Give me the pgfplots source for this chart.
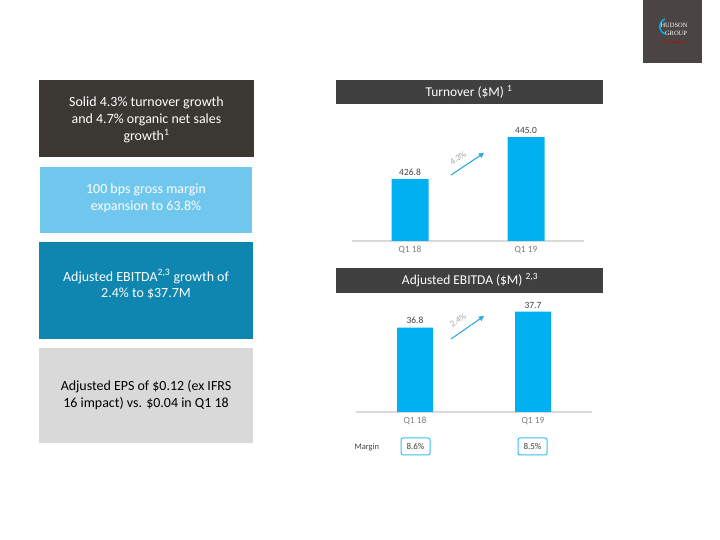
\documentclass[border=0pt]{standalone}
\usepackage{pgfplots}
\pgfplotsset{compat=1.18}
\usepackage{fontspec}
\setmainfont{Carlito}
\newfontfamily\logofont{Liberation Serif}
\usetikzlibrary{arrows.meta}
\definecolor{barcyan}{HTML}{00B0F0}
\definecolor{titlegray}{HTML}{404040}
\definecolor{boxdark}{HTML}{3B3733}
\definecolor{boxlight}{HTML}{6FC7EE}
\definecolor{boxteal}{HTML}{0E86B0}
\definecolor{boxgray}{HTML}{D9D9D9}
\definecolor{lblgray}{HTML}{7F7F7F}
\definecolor{arrowblue}{HTML}{1FA9E1}
\definecolor{logobg}{HTML}{4A4542}
\begin{document}
\begin{tikzpicture}[x=1bp,y=1bp]
\useasboundingbox (0,0) rectangle (720,540);
\fill[white] (0,0) rectangle (720,540);
% logo
\fill[logobg] (643,540) rectangle (702,477);
\draw[barcyan, line width=1.5] (665,521) arc[start angle=110, end angle=250, radius=8];
\node[white, font=\fontsize{6.5}{7}\logofont] at (674,515) {HUDSON};
\node[white, font=\fontsize{6.5}{7}\logofont] at (676,507) {GROUP};
\node[red!80!black, font=\fontsize{3.5}{4}\selectfont] at (673,497) {A Dufry Company};
% left boxes
\fill[boxdark] (39,460) rectangle (254,383);
\node[white, align=center, font=\fontsize{14}{17}\selectfont] at (146.5,420) {Solid 4.3\% turnover growth\\and 4.7\% organic net sales\\growth\textsuperscript{1}};
\fill[boxlight] (40,373) rectangle (252,307);
\node[white, align=center, font=\fontsize{14}{17}\selectfont] at (146,341.5) {100 bps gross margin\\expansion to 63.8\%};
\fill[boxteal] (39,298) rectangle (253,201);
\node[white, align=center, font=\fontsize{14}{17}\selectfont] at (146,255.5) {Adjusted EBITDA\textsuperscript{2,3} growth of\\2.4\% to \$37.7M};
\fill[boxgray] (39,192) rectangle (253,97);
\node[black, align=center, font=\fontsize{14}{17}\selectfont] at (146,145) {Adjusted EPS of \$0.12 (ex IFRS\\16 impact) vs. \$0.04 in Q1 18};
% title bars
\fill[titlegray] (336,460) rectangle (603,436);
\node[white, font=\fontsize{13.5}{15}\selectfont] at (469,448) {Turnover (\$M) \textsuperscript{1}};
\fill[titlegray] (336,272) rectangle (603,247);
\node[white, font=\fontsize{13.5}{15}\selectfont] at (470,259.5) {Adjusted EBITDA (\$M) \textsuperscript{2,3}};
% turnover chart
\begin{axis}[
  at={(352bp,299bp)}, anchor=south west,
  scale only axis, width=232bp, height=115.5bp,
  xmin=-0.5, xmax=1.5, ymin=400, ymax=450,
  axis x line=bottom, axis y line=none,
  x axis line style={boxgray, line width=1.2pt, -},
  xtick=data, xticklabels={Q1 18, Q1 19},
  major tick length=0pt,
  xticklabel style={lblgray, font=\fontsize{9.5}{11}\selectfont, yshift=-2bp},
  ybar, bar width=37bp,
  nodes near coords,
  nodes near coords style={titlegray, font=\fontsize{9.5}{11}\selectfont, /pgf/number format/.cd, fixed, fixed zerofill, precision=1, assume math mode=true},
  clip=false,
]
\addplot[fill=barcyan, draw=none] coordinates {(0,426.8) (1,445.0)};
\end{axis}
\draw[arrowblue, line width=1, -{Triangle[length=5bp,width=5bp]}] (451,365) -- (484,387);
\node[lblgray!70, rotate=34, font=\fontsize{9}{10}\selectfont] at (458,382) {4.3\%};
% EBITDA chart
\begin{axis}[
  at={(356bp,128bp)}, anchor=south west,
  scale only axis, width=236bp, height=105.6bp,
  xmin=-0.5, xmax=1.5, ymin=32, ymax=38,
  axis x line=bottom, axis y line=none,
  x axis line style={boxgray, line width=1.2pt, -},
  xtick=data, xticklabels={Q1 18, Q1 19},
  major tick length=0pt,
  xticklabel style={lblgray, font=\fontsize{9.5}{11}\selectfont, yshift=-2bp},
  ybar, bar width=36bp,
  nodes near coords,
  nodes near coords style={titlegray, font=\fontsize{9.5}{11}\selectfont, /pgf/number format/.cd, fixed, fixed zerofill, precision=1, assume math mode=true},
  clip=false,
]
\addplot[fill=barcyan, draw=none] coordinates {(0,36.8) (1,37.7)};
\end{axis}
\draw[arrowblue, line width=1, -{Triangle[length=5bp,width=5bp]}] (451,201) -- (484,224);
\node[lblgray!70, rotate=34, font=\fontsize{9}{10}\selectfont] at (458,220) {2.4\%};
% margin row
\node[titlegray, anchor=west, font=\fontsize{8.5}{10}\selectfont] at (351,93) {Margin};
\draw[barcyan!80, line width=1, rounded corners=2] (401,102) rectangle (430,85);
\node[titlegray, font=\fontsize{9}{10}\selectfont] at (415.5,93.5) {8.6\%};
\draw[barcyan!80, line width=1, rounded corners=2] (518,102) rectangle (547,85);
\node[titlegray, font=\fontsize{9}{10}\selectfont] at (532.5,93.5) {8.5\%};
\end{tikzpicture}
\end{document}
